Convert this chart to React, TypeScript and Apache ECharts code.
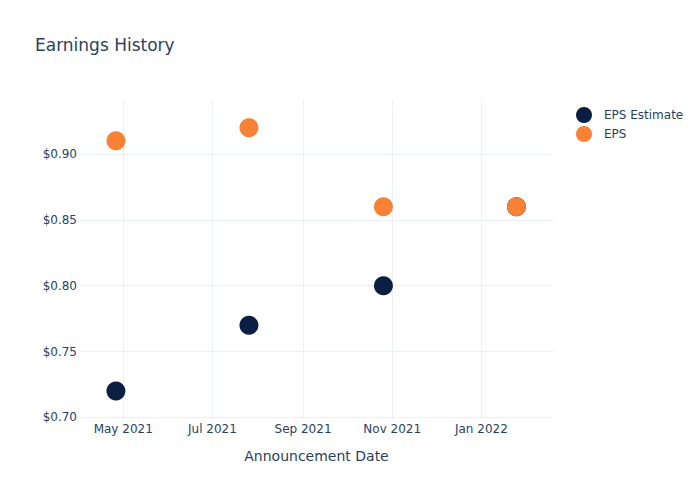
import React, { useEffect, useRef } from "react";
import * as echarts from "echarts";

const dates = ["2021-04-26", "2021-07-26", "2021-10-26", "2022-01-25"];
const epsEstimate = [0.72, 0.77, 0.8, 0.86];
const eps = [0.91, 0.92, 0.86, 0.86];

const xTickDates = ["2021-05-01", "2021-07-01", "2021-09-01", "2021-11-01", "2022-01-01"];
const xTickLabels = ["May 2021", "Jul 2021", "Sep 2021", "Nov 2021", "Jan 2022"];
const yTicks = [0.7, 0.75, 0.8, 0.85, 0.9];

const toTs = (d: string) => new Date(d + "T00:00:00").getTime();

export default function App() {
  const ref = useRef<HTMLDivElement>(null);
  useEffect(() => {
    document.body.style.margin = "0";
    const chart = echarts.init(ref.current!, null, { renderer: "svg" });
    const font = "DejaVu Sans";
    const textColor = "#2a3f5f";
    const grid = "#ebf0f8";
    const xTickTs = xTickDates.map(toTs);
    chart.setOption({
      animation: false,
      backgroundColor: "#ffffff",
      textStyle: { fontFamily: font, color: textColor },
      title: {
        text: "Earnings History",
        left: 30,
        top: 31,
        textStyle: { fontFamily: font, fontSize: 17, fontWeight: "normal", color: textColor },
      },
      legend: {
        orient: "vertical",
        left: 571,
        top: 102,
        itemWidth: 30,
        itemHeight: 16,
        itemGap: 3,
        icon: "circle",
        textStyle: { fontFamily: font, fontSize: 12, color: textColor },
        data: ["EPS Estimate", "EPS"],
      },
      grid: { left: 80, right: 147, top: 100, bottom: 80 },
      xAxis: {
        type: "value",
        min: toTs("2021-04-01") + 10 * 3600 * 1000,
        max: toTs("2022-02-19"),
        name: "Announcement Date",
        nameLocation: "middle",
        nameGap: 29,
        nameTextStyle: { fontFamily: font, fontSize: 14, color: textColor },
        axisLine: { show: false },
        axisTick: { show: false, customValues: xTickTs },
        axisLabel: {
          customValues: xTickTs,
          fontFamily: font,
          fontSize: 12,
          color: textColor,
          margin: 3,
          formatter: (v: number) => {
            const i = xTickTs.findIndex((t) => Math.abs(t - v) < 3600 * 1000 * 13);
            return i >= 0 ? xTickLabels[i] : "";
          },
        },
        splitLine: { show: true, lineStyle: { color: grid, width: 1 } },
      },
      yAxis: {
        type: "value",
        min: 0.698,
        max: 0.941,
        axisLine: { show: false },
        axisTick: { show: false, customValues: yTicks },
        axisLabel: {
          customValues: yTicks,
          fontFamily: font,
          fontSize: 12,
          color: textColor,
          margin: 3,
          formatter: (v: number) => "$" + v.toFixed(2),
        },
        splitLine: { show: true, lineStyle: { color: grid, width: 1 } },
      },
      series: [
        {
          name: "EPS Estimate",
          type: "scatter",
          symbol: "circle",
          symbolSize: 19,
          itemStyle: { color: "#0b1f42", opacity: 1 },
          data: dates.map((d, i) => [toTs(d), epsEstimate[i]]),
        },
        {
          name: "EPS",
          type: "scatter",
          symbol: "circle",
          symbolSize: 19,
          itemStyle: { color: "#f78236", opacity: 1 },
          data: dates.map((d, i) => [toTs(d), eps[i]]),
        },
      ],
    });
    return () => chart.dispose();
  }, []);
  return <div ref={ref} style={{ width: 700, height: 500 }} />;
}
